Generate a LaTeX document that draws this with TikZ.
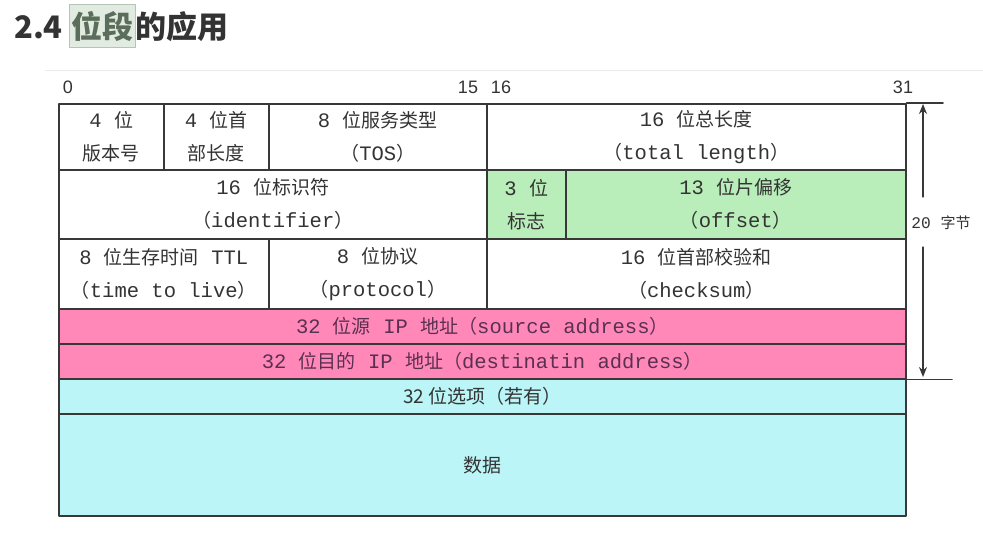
\documentclass[tikz,border=0pt]{standalone}
\usepackage{fontspec}
\setmainfont{Liberation Mono}[Scale=1.08]
\newfontfamily\cjk{Noto Sans CJK SC}
\newfontfamily\arial{Liberation Sans}
\usetikzlibrary{arrows.meta}

\definecolor{inkgray}{HTML}{333333}
\definecolor{rulegray}{HTML}{383838}
\definecolor{flaggreen}{HTML}{B9EEBA}
\definecolor{addrpink}{HTML}{FF88B9}
\definecolor{optcyan}{HTML}{BBF5F8}
\definecolor{pinkink}{HTML}{5A3050}
\definecolor{markgreen}{HTML}{E2EBE2}
\definecolor{markedge}{HTML}{B5C5B5}
\definecolor{titlegreen}{HTML}{5B6E5B}

\newcommand\zh[1]{{\cjk #1}}

\tikzset{
  cell/.style={draw=rulegray,line width=1.6pt,anchor=north west,inner sep=0pt,
    align=center,text=inkgray,font=\fontsize{19}{33}\selectfont},
  bitnum/.style={font=\arial\fontsize{18}{20}\selectfont,text=inkgray},
}

\begin{document}
\begin{tikzpicture}[x=1pt,y=-1pt,line cap=round,line join=round]
  \useasboundingbox (0,0) rectangle (983,539);
  % title
  \fill[markgreen,draw=markedge,line width=0.8pt] (69,4) rectangle (135,47);
  \node[anchor=west,inner sep=0pt,text=inkgray,font=\cjk\bfseries\fontsize{31}{33}\selectfont] (tnum) at (14,27) {2.4};
  \node[inner sep=0pt,text=titlegreen,font=\cjk\bfseries\fontsize{31}{33}\selectfont] (tmark) at (102,26) {位段};
  \node[anchor=west,inner sep=0pt,text=inkgray,font=\cjk\bfseries\fontsize{31}{33}\selectfont] (trest) at (135,27) {的应用};
  \draw[black!8,line width=0.8pt] (45,70)--(983,70);
  % bit numbers
  \node[bitnum] (b0) at (68,87) {0};
  \node[bitnum] (b15) at (468,87) {15};
  \node[bitnum] (b16) at (501,87) {16};
  \node[bitnum] (b31) at (903,87) {31};
  % row 1
  \node[cell,minimum width=105pt,minimum height=66pt] (ver) at (58,103) {4 \zh{位}\\\zh{版本号}};
  \node[cell,minimum width=105pt,minimum height=66pt] (hlen) at (163,103) {4 \zh{位首}\\\zh{部长度}};
  \node[cell,minimum width=218pt,minimum height=66pt] (tos) at (268,103) {8 \zh{位服务类型}\\\zh{（}TOS\zh{）}};
  \node[cell,minimum width=419pt,minimum height=66pt] (tlen) at (486,103) {16 \zh{位总长度}\\\zh{（}total length\zh{）}};
  % row 2
  \node[cell,minimum width=428pt,minimum height=69pt] (ident) at (58,169) {16 \zh{位标识符}\\\zh{（}identifier\zh{）}};
  \node[cell,fill=flaggreen,minimum width=79pt,minimum height=69pt] (flag) at (486,169) {3 \zh{位}\\\zh{标志}};
  \node[cell,fill=flaggreen,minimum width=340pt,minimum height=69pt] (offs) at (565,169) {13 \zh{位片偏移}\\\zh{（}offset\zh{）}};
  % row 3
  \node[cell,minimum width=210pt,minimum height=70pt] (ttl) at (58,238) {8 \zh{位生存时间} TTL\\\zh{（}time to live\zh{）}};
  \node[cell,minimum width=218pt,minimum height=70pt] (proto) at (268,238) {8 \zh{位协议}\\\zh{（}protocol\zh{）}};
  \node[cell,minimum width=419pt,minimum height=70pt] (csum) at (486,238) {16 \zh{位首部校验和}\\\zh{（}checksum\zh{）}};
  % address rows
  \node[cell,fill=addrpink,text=pinkink,minimum width=847pt,minimum height=35pt] (src) at (58,308) {32 \zh{位源} IP \zh{地址（}source address\zh{）}};
  \node[cell,fill=addrpink,text=pinkink,minimum width=847pt,minimum height=35pt] (dst) at (58,343) {32 \zh{位目的} IP \zh{地址（}destinatin address\zh{）}};
  % options and data
  \node[cell,fill=optcyan,font=\cjk\fontsize{19}{22}\selectfont,minimum width=847pt,minimum height=35pt] (opt) at (58,378) {32 位选项（若有）};
  \node[cell,fill=optcyan,font=\cjk\fontsize{19}{22}\selectfont,minimum width=847pt,minimum height=102pt] (data) at (58,413) {数据};
  % 20 byte marker
  \coordinate (ttop) at (943,103);
  \coordinate (tbot) at (952,378);
  \draw[rulegray,line width=1.6pt] (tlen.north east)--(ttop |- tlen.north east);
  \draw[rulegray,line width=1.6pt] (dst.south east)--(tbot |- dst.south east);
  \node[text=inkgray,font=\fontsize{15}{18}\selectfont] (hdr) at (941,223) {20 \zh{字节}};
  \coordinate (aup) at (923,197);
  \coordinate (atip) at (923,104);
  \coordinate (adn) at (923,247);
  \coordinate (btip) at (923,377);
  \draw[rulegray,line width=1.2pt,-{Stealth[length=10pt,width=8pt]}] (aup)--(atip);
  \draw[rulegray,line width=1.2pt,-{Stealth[length=10pt,width=8pt]}] (adn)--(btip);
\end{tikzpicture}
\end{document}
